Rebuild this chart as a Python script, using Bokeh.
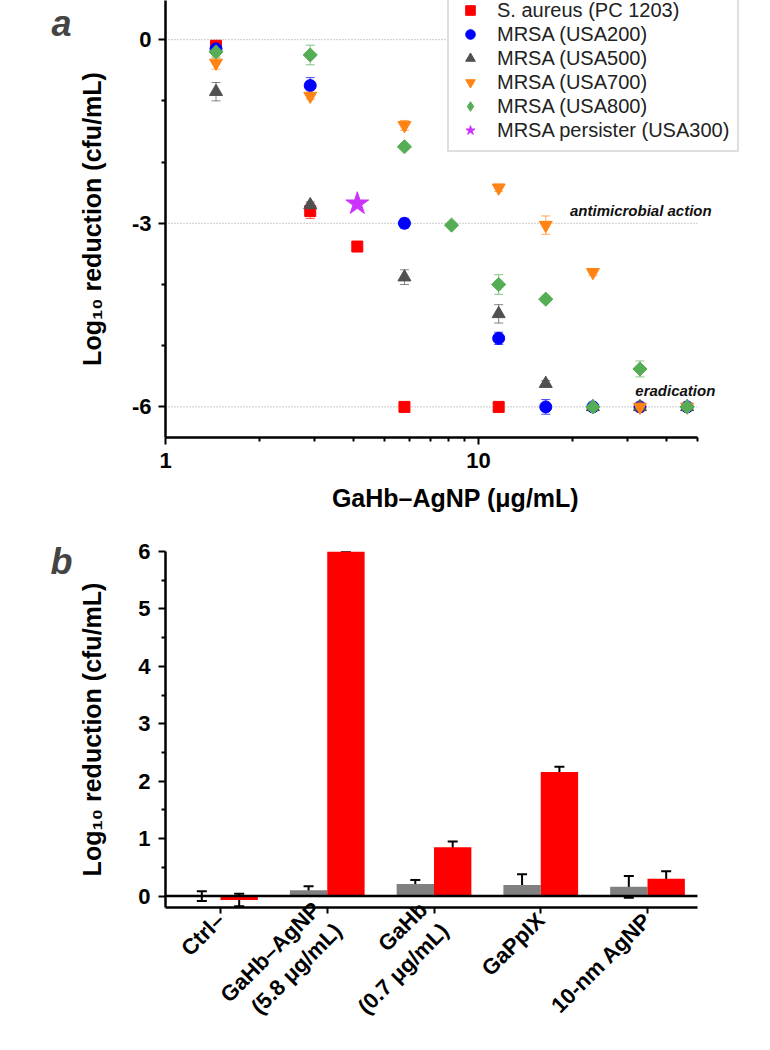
import math
import numpy as np
from bokeh.plotting import figure
from bokeh.models import Range1d, FixedTicker, Whisker, ColumnDataSource, Label
from bokeh.layouts import column
from bokeh.embed import file_html
from bokeh.resources import INLINE

# ---------------- Panel a data ----------------
sa_x = [1.45, 2.9, 4.1, 5.8, 11.6]
sa_y = [-0.10, -2.80, -3.38, -6.0, -6.0]
sa_e = [0.05, 0.12, 0.03, 0.0, 0.0]

u200_x = [1.45, 2.9, 5.8, 11.6, 16.4, 23.2, 32.8, 46.4]
u200_y = [-0.15, -0.75, -3.0, -4.88, -6.0, -6.0, -6.0, -6.0]
u200_e = [0.08, 0.13, 0.08, 0.10, 0.12, 0.0, 0.0, 0.0]

u500_x = [1.45, 2.9, 5.8, 11.6, 16.4, 23.2, 32.8, 46.4]
u500_y = [-0.85, -2.70, -3.88, -4.48, -5.62, -6.0, -6.0, -6.0]
u500_e = [0.15, 0.05, 0.12, 0.15, 0.05, 0.0, 0.0, 0.0]

u700_x = [1.45, 2.9, 5.8, 11.6, 16.4, 23.2, 32.8, 46.4]
u700_y = [-0.38, -0.92, -1.40, -2.42, -3.03, -3.80, -6.0, -6.0]
u700_e = [0.10, 0.05, 0.08, 0.06, 0.15, 0.05, 0.05, 0.0]

u800_x = [1.45, 2.9, 5.8, 8.2, 11.6, 16.4, 23.2, 32.8, 46.4]
u800_y = [-0.20, -0.25, -1.75, -3.03, -4.00, -4.24, -6.0, -5.38, -6.0]
u800_e = [0.10, 0.16, 0.04, 0.04, 0.16, 0.05, 0.0, 0.13, 0.0]

pers_x = [4.1]
pers_y = [-2.68]

x_major = [1, 10]
x_minor = [2, 3, 4, 5, 6, 7, 8, 9, 20, 30, 40, 50]
y_major_a = [0, -3, -6]
y_minor_a = [-1, -2, -4, -5]
ref_levels = [0, -3, -6]

# ---------------- Panel b data ----------------
categories = ["Ctrl\u2013", "GaHb\u2013AgNP\n(5.8 \u03bcg/mL)", "GaHb\n(0.7 \u03bcg/mL)", "GaPpIX", "10-nm AgNP"]
gray_vals = [0.00, 0.10, 0.21, 0.19, 0.16]
gray_err = [0.085, 0.07, 0.07, 0.19, 0.19]
red_vals = [-0.07, 6.0, 0.85, 2.16, 0.30]
red_err = [0.11, 0.0, 0.10, 0.09, 0.13]
y_major_b = [0, 1, 2, 3, 4, 5, 6]
y_minor_b = [0.5, 1.5, 2.5, 3.5, 4.5, 5.5]

FONT = "Liberation Sans"
RED = "#ff0000"
BLUE = "#0000ff"
GRAY = "#505050"
ORANGE = "#ff8414"
GREEN = "#55ad55"
MAGENTA = "#cc33ff"

LEFT = 165
RIGHT = 9
W = 754
LEG_FS = "20px"
PX_PER_DECADE = 313.0


def style_axis(ax, tick_size="22px", label_size="25px"):
    ax.axis_line_width = 2.5
    ax.axis_line_color = "black"
    ax.major_tick_line_width = 2
    ax.minor_tick_line_width = 2
    ax.major_tick_out = 7
    ax.major_tick_in = 0
    ax.minor_tick_out = 4
    ax.minor_tick_in = 0
    ax.major_label_text_font = FONT
    ax.major_label_text_font_style = "bold"
    ax.major_label_text_font_size = tick_size
    ax.major_label_text_color = "black"
    ax.axis_label_text_font = FONT
    ax.axis_label_text_font_style = "bold"
    ax.axis_label_text_font_size = label_size
    ax.axis_label_text_color = "black"


# ================= Panel a =================
frame_w = W - LEFT - RIGHT
x_end = 10 ** (frame_w / PX_PER_DECADE)
pa = figure(width=W, height=537, x_axis_type="log",
            x_range=Range1d(1, x_end), y_range=Range1d(-6.5, 0.64),
            output_backend="svg", toolbar_location=None,
            min_border_left=LEFT, min_border_right=RIGHT,
            min_border_top=0, min_border_bottom=100)
pa.outline_line_color = None
pa.xgrid.visible = False
pa.ygrid.visible = False

pa.segment(x0=[x_major[0]] * len(ref_levels), x1=[x_minor[-1]] * len(ref_levels),
           y0=ref_levels, y1=ref_levels, line_color="#9a9a9a", line_width=1,
           line_dash="1 2")

series = [
    ("S. aureus (PC 1203)", sa_x, sa_y, sa_e, RED, "square", 11, 0.0),
    ("MRSA (USA200)", u200_x, u200_y, u200_e, BLUE, "circle", 12, 0.0),
    ("MRSA (USA500)", u500_x, u500_y, u500_e, GRAY, "triangle", 13, 0.0),
    ("MRSA (USA700)", u700_x, u700_y, u700_e, ORANGE, "inverted_triangle", 13, 0.0),
    (None, u800_x, u800_y, u800_e, GREEN, "square", 10, math.pi / 4),
]
for name, xs, ys, es, col, mk, sz, ang in series:
    ys_a = np.array(ys)
    es_a = np.array(es)
    src = ColumnDataSource(dict(x=xs, y=ys, up=ys_a + es_a, lo=ys_a - es_a))
    w = Whisker(base="x", upper="up", lower="lo", source=src, dimension="height",
                line_color=col, line_width=1, line_alpha=0.7)
    for h in (w.upper_head, w.lower_head):
        h.size = 9
        h.line_color = col
        h.line_alpha = 0.7
    pa.add_layout(w)
    kw = dict(legend_label=name) if name else {}
    pa.scatter("x", "y", source=src, marker=mk, size=sz, angle=ang, fill_color=col,
               line_color=col, **kw)
    if name is None:
        # legend entry drawn as a diamond (legend glyphs ignore marker angle);
        # the proxy point has no position, so nothing is drawn in the plot
        pa.scatter(x=[float("nan")], y=[float("nan")], marker="diamond", size=12,
                   fill_color=col, line_color=col, legend_label="MRSA (USA800)")

pa.scatter(pers_x, pers_y, marker="star", size=24, fill_color=MAGENTA,
           line_color=MAGENTA, legend_label="MRSA persister (USA300)")

xa = pa.xaxis[0]
style_axis(xa)
xa.ticker = FixedTicker(ticks=x_major, minor_ticks=x_minor)
xa.major_label_overrides = {1: "1", 10: "10"}
xa.axis_label = "GaHb\u2013AgNP (\u03bcg/mL)"
xa.major_label_standoff = 8
xa.axis_label_standoff = 13
xa.bounds = (x_major[0], x_minor[-1])

ya = pa.yaxis[0]
style_axis(ya)
ya.ticker = FixedTicker(ticks=y_major_a, minor_ticks=y_minor_a)
ya.major_label_overrides = {0: "0", -3: "-3", -6: "-6"}
ya.axis_label = "Log\u2081\u2080 reduction (cfu/mL)"
ya.major_label_standoff = 7
ya.axis_label_standoff = 23

leg = pa.legend[0]
leg.location = (447 - LEFT, 285)
leg.label_text_font = FONT
leg.label_text_font_size = LEG_FS
leg.label_text_color = "#222222"
leg.label_height = 24
leg.glyph_height = 24
leg.glyph_width = 26
leg.label_standoff = 14
leg.spacing = 0
leg.padding = 8
leg.margin = 0
leg.border_line_color = "#c0c0c0"
leg.border_line_width = 2
leg.background_fill_alpha = 1.0

pa.add_layout(Label(x=19.6, y=-2.79, text="antimicrobial action", text_font=FONT,
                    text_font_style="bold italic", text_font_size="15px",
                    text_baseline="middle", text_color="#111111"))
pa.add_layout(Label(x=31.7, y=-5.74, text="eradication", text_font=FONT,
                    text_font_style="bold italic", text_font_size="15px",
                    text_baseline="middle", text_color="#111111"))
pa.add_layout(Label(x=-3, y=414, x_units="screen", y_units="screen", text="a",
                    text_font=FONT, text_font_style="bold italic", text_font_size="36px",
                    text_align="left", text_baseline="middle"), "left")

# ================= Panel b =================
pos = np.arange(len(categories))
px_per_cat = 106.75
b_start = (LEFT - 220) / px_per_cat
b_end = (W - RIGHT - 220) / px_per_cat
b_axis_end = (697 - 220) / px_per_cat
pb = figure(width=W, height=513, x_range=Range1d(b_start, b_end),
            y_range=Range1d(-0.2, 6), output_backend="svg", toolbar_location=None,
            min_border_left=LEFT, min_border_right=RIGHT, min_border_top=14,
            min_border_bottom=142)
pb.outline_line_color = None
pb.xgrid.visible = False
pb.ygrid.visible = False

bw = 0.35
g_src = ColumnDataSource(dict(x=pos - bw / 2, top=gray_vals,
                              up=np.array(gray_vals) + np.array(gray_err),
                              lo=np.array(gray_vals) - np.array(gray_err)))
r_src = ColumnDataSource(dict(x=pos + bw / 2, top=red_vals,
                              up=np.array(red_vals) + np.array(red_err),
                              lo=np.array(red_vals) - np.array(red_err)))
pb.vbar(x="x", top="top", bottom=0, width=bw, source=g_src, fill_color="#808080",
        line_color=None)
pb.vbar(x="x", top="top", bottom=0, width=bw, source=r_src, fill_color=RED,
        line_color=None)

pb.segment(x0=[b_start], x1=[b_axis_end], y0=[0], y1=[0], line_color="black",
           line_width=2.5)

for src in (g_src, r_src):
    w = Whisker(base="x", upper="up", lower="lo", source=src, dimension="height",
                line_color="black", line_width=2)
    for h in (w.upper_head, w.lower_head):
        h.size = 10
        h.line_width = 2
    pb.add_layout(w)

xb = pb.xaxis[0]
style_axis(xb, tick_size="22px")
xb.ticker = FixedTicker(ticks=list(pos), minor_ticks=[])
xb.major_label_overrides = {int(i): c for i, c in zip(pos, categories)}
xb.major_label_orientation = math.pi / 4
xb.major_tick_out = 6
xb.major_label_standoff = 3
xb.bounds = (b_start, b_axis_end)

yb = pb.yaxis[0]
style_axis(yb)
yb.ticker = FixedTicker(ticks=y_major_b, minor_ticks=y_minor_b)
yb.axis_label = "Log\u2081\u2080 reduction (cfu/mL)"
yb.major_label_standoff = 8
yb.axis_label_standoff = 29

pb.add_layout(Label(x=-3, y=346, x_units="screen", y_units="screen", text="b",
                    text_font=FONT, text_font_style="bold italic", text_font_size="36px",
                    text_align="left", text_baseline="middle"), "left")

layout = column(pa, pb, spacing=0)
open("out.html", "w").write(file_html(layout, INLINE))
